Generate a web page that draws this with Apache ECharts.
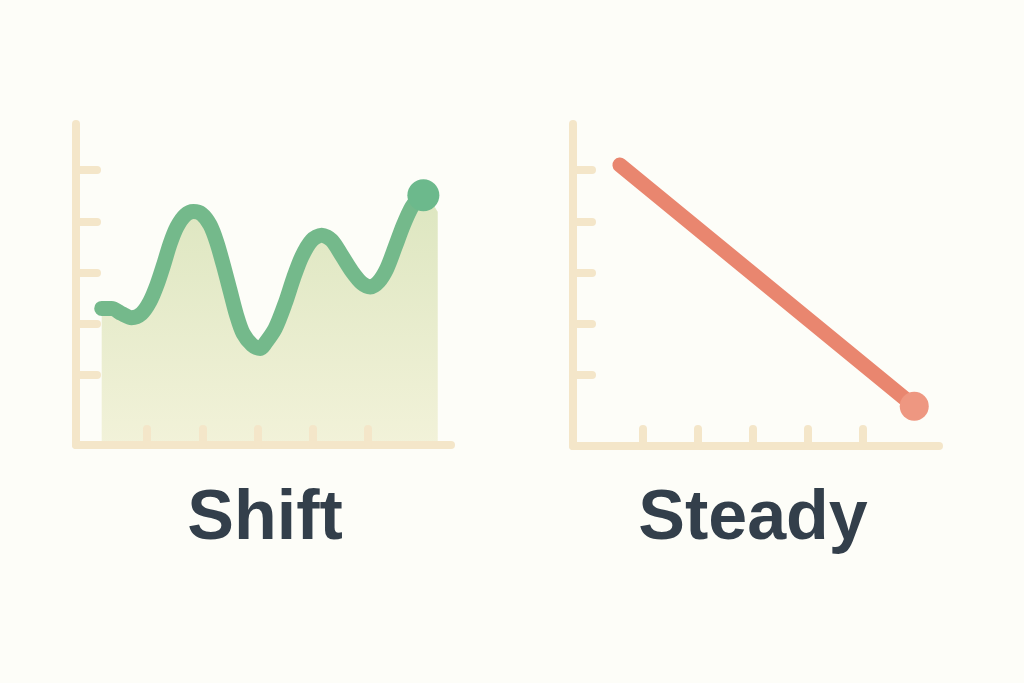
<!DOCTYPE html>
<html>
<head>
<meta charset="utf-8">
<script src="https://cdn.jsdelivr.net/npm/echarts@6/dist/echarts.min.js"></script>
<style>
html,body{margin:0;padding:0;background:#fdfdf8;}
#c{width:1024px;height:683px;}
</style>
</head>
<body>
<div id="c"></div>
<script>
// ---- data ----
var titles = ['Shift', 'Steady'];
var tickValues = [1, 2, 3, 4, 5];
// left chart "Shift": wavy rising series [x, y]
var shiftLine = [
  [0.18, 2.30], [0.36, 2.30], [0.54, 2.20], [0.72, 2.12], [0.90, 2.20],
  [1.05, 2.43], [1.18, 2.76], [1.30, 3.15], [1.42, 3.57], [1.54, 3.89],
  [1.69, 4.12], [1.84, 4.19], [1.99, 4.14], [2.14, 3.93], [2.26, 3.60],
  [2.38, 3.15], [2.50, 2.66], [2.62, 2.17], [2.74, 1.81], [2.90, 1.59],
  [3.05, 1.52], [3.14, 1.62], [3.32, 1.91], [3.50, 2.40], [3.65, 2.89],
  [3.80, 3.31], [3.98, 3.63], [4.16, 3.73], [4.34, 3.63], [4.52, 3.34],
  [4.71, 3.02], [4.89, 2.79], [5.04, 2.72], [5.19, 2.82], [5.34, 3.08],
  [5.49, 3.50], [5.64, 3.93], [5.79, 4.28], [5.94, 4.48], [6.00, 4.51]
];
var shiftAreaTail = [[6.26, 4.19]];
// right chart "Steady": straight decline [x, y]
var steadyLine = [[0.58, 5.10], [5.93, 0.39]];

var axisColor = '#f4e6c9';
var textColor = '#333f4b';

function endPoint(arr, color, size) {
  return arr.map(function (p, i) {
    if (i === arr.length - 1) {
      return { value: p, symbol: 'circle', symbolSize: size, itemStyle: { color: color } };
    }
    return { value: p };
  });
}

function axisCfg(gi, min, max, tickLen) {
  return {
    gridIndex: gi, type: 'value', min: min, max: max, z: 5,
    axisLine: { show: true, onZero: false, lineStyle: { color: axisColor, width: 8, cap: 'round' } },
    axisTick: { show: true, inside: true, length: tickLen, customValues: tickValues,
      lineStyle: { color: axisColor, width: 8, cap: 'round' } },
    axisLabel: { show: false }, splitLine: { show: false }
  };
}

var chart = echarts.init(document.getElementById('c'), null, { renderer: 'canvas' });
chart.setOption({
  backgroundColor: '#fdfdf8',
  animation: false,
  grid: [
    { left: 76, top: 124, width: 375, height: 321 },
    { left: 573, top: 124, width: 366, height: 322 }
  ],
  xAxis: [
    axisCfg(0, -0.285, 6.50, 16),
    axisCfg(1, -0.273, 6.38, 17)
  ],
  yAxis: [
    axisCfg(0, -0.366, 5.90, 21),
    axisCfg(1, -0.385, 5.90, 19)
  ],
  series: [
    {
      type: 'line', xAxisIndex: 0, yAxisIndex: 0, smooth: 0.3,
      data: shiftLine.concat(shiftAreaTail),
      symbol: 'none', lineStyle: { width: 0 },
      areaStyle: {
        origin: 'start',
        color: new echarts.graphic.LinearGradient(0, 0, 0, 1, [
          { offset: 0, color: '#dde6c0' },
          { offset: 1, color: '#f2f2d9' }
        ]),
        opacity: 1
      },
      z: 1
    },
    {
      type: 'line', xAxisIndex: 0, yAxisIndex: 0, smooth: 0.3,
      data: endPoint(shiftLine, '#6cb98c', 32),
      symbol: 'none', showSymbol: true,
      lineStyle: { color: '#74b98b', width: 15, cap: 'round', join: 'round' },
      z: 6
    },
    {
      type: 'line', xAxisIndex: 1, yAxisIndex: 1,
      data: endPoint(steadyLine, '#ee9781', 29),
      symbol: 'none', showSymbol: true,
      lineStyle: { color: '#e9866f', width: 15, cap: 'round' },
      z: 6
    }
  ],
  graphic: [
    { type: 'text', position: [265, 520], style: { text: titles[0], x: 0, y: 0, align: 'center', verticalAlign: 'middle',
      font: 'bold 70px "Liberation Sans", Arial, sans-serif', fill: textColor } },
    { type: 'text', position: [753, 520], style: { text: titles[1], x: 0, y: 0, align: 'center', verticalAlign: 'middle',
      font: 'bold 70px "Liberation Sans", Arial, sans-serif', fill: textColor } }
  ]
});
</script>
</body>
</html>
